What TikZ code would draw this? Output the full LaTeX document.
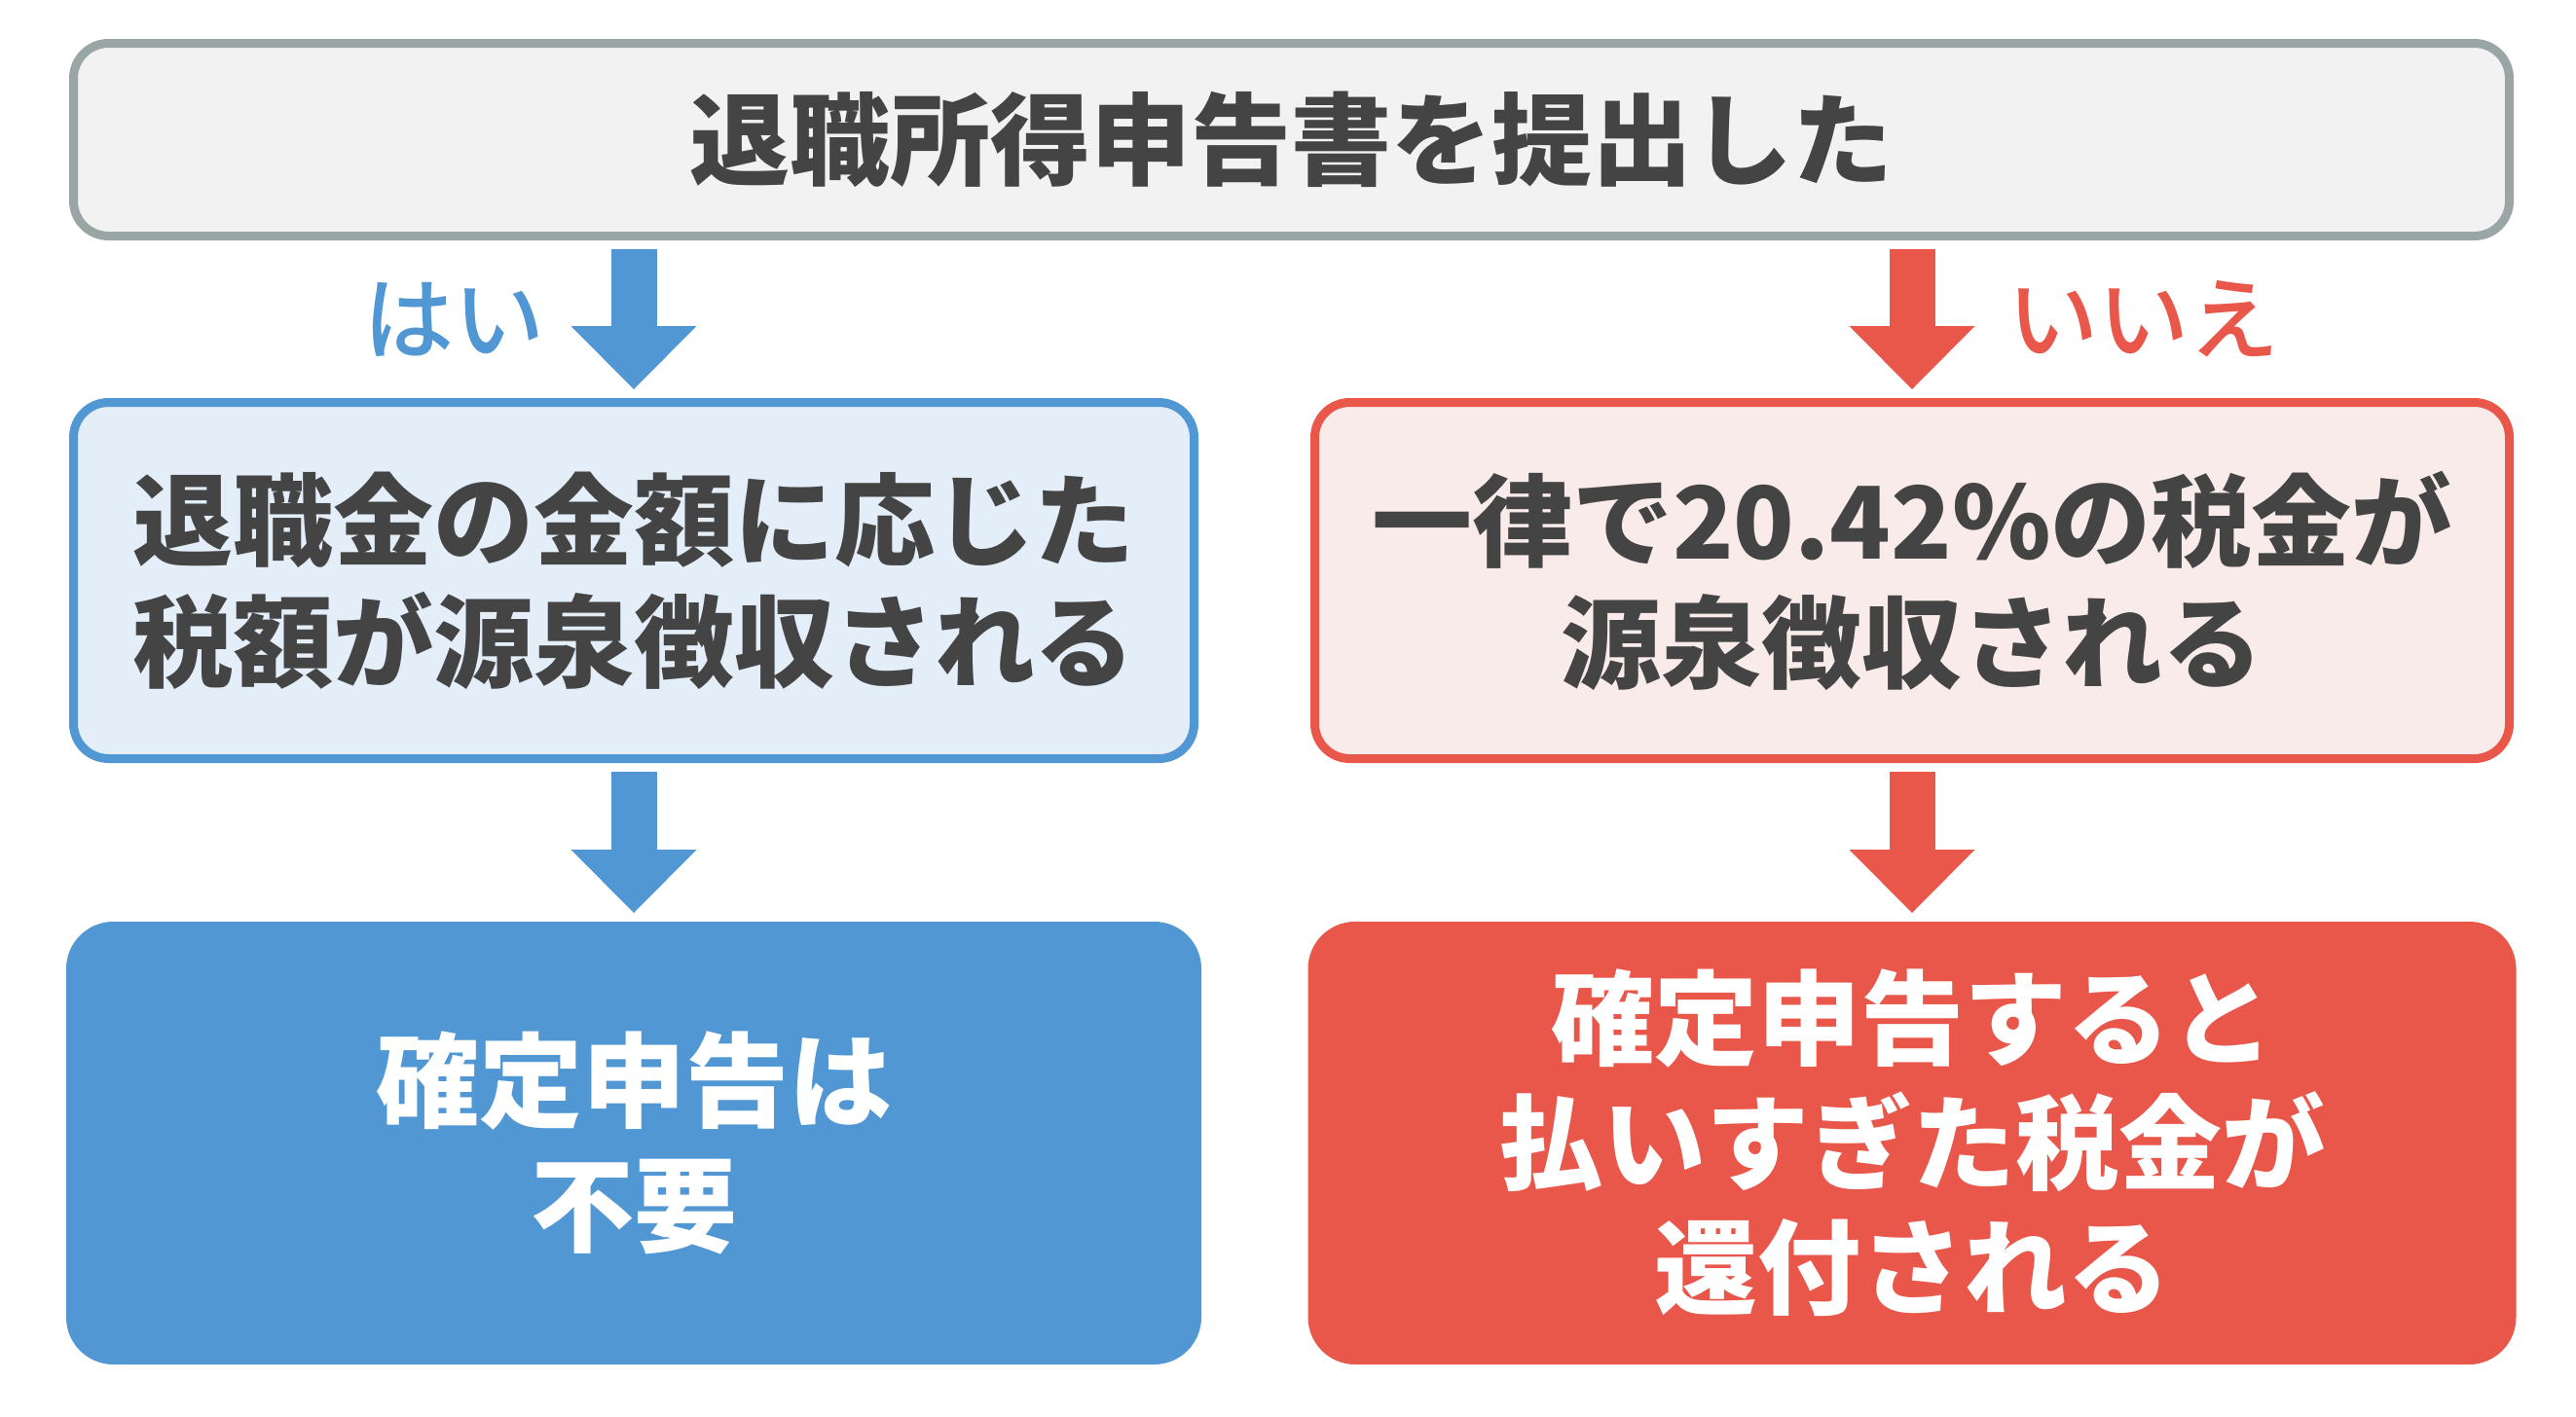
\documentclass[tikz,border=0pt]{standalone}
\usepackage{fontspec}
\usepackage{tikz}
\usetikzlibrary{positioning,arrows.meta}
\newfontfamily\jpfont{Noto Sans CJK JP}
\newfontfamily\jpmedium{Noto Sans CJK JP Medium}
\definecolor{myblue}{RGB}{80,151,211}
\definecolor{mybluelight}{RGB}{227,238,248}
\definecolor{myred}{RGB}{232,87,74}
\definecolor{myredlight}{RGB}{249,235,234}
\definecolor{mygray}{RGB}{154,165,166}
\definecolor{mygraylight}{RGB}{242,242,242}
\definecolor{mytext}{RGB}{68,68,68}
\tikzset{
  flowpic/.style={
    inner sep=0pt
    ,outer sep=0pt
  }
  ,box/.style={rectangle,rounded corners=18pt,line width=4.5pt,align=center
    ,font={\jpfont\bfseries\fontsize{51.5pt}{62.5pt}\selectfont\color{mytext}}}
  ,question/.style={box,draw=mygray,fill=mygraylight
    ,minimum width=1251pt,minimum height=99pt}
  ,yesbox/.style={box,draw=myblue,fill=mybluelight
    ,minimum width=575.5pt,minimum height=183pt}
  ,nobox/.style={box,draw=myred,fill=myredlight
    ,minimum width=613.5pt,minimum height=183pt}
  ,result/.style={box,rounded corners=22pt
    ,minimum height=223pt
    ,font={\jpfont\bfseries\fontsize{53pt}{64pt}\selectfont\color{white}}}
  ,yesresult/.style={result,draw=myblue,fill=myblue,minimum width=578.5pt}
  ,noresult/.style={result,draw=myred,fill=myred,minimum width=616pt}
  ,bigarrow/.style={line width=23.5pt
    ,-{Triangle[width=64.5pt,length=32.5pt,line width=0pt]}
    ,shorten <=6.75pt,shorten >=6.75pt}
  ,answer/.style={font={\jpmedium\fontsize{46.5pt}{50pt}\selectfont}}
}
\begin{document}
\begin{tikzpicture}[flowpic]
    \useasboundingbox (0,0) rectangle (1323pt,-728pt);

    % question
    \node[question] (teishutsu) at (663.25pt,-71.75pt) {退職所得申告書を提出した};

    % middle row
    \node[yesbox,below right=85.5pt and 0pt of teishutsu.south west] (gensen)
      {退職金の金額に応じた\\税額が源泉徴収される};
    \node[nobox,below left=85.5pt and 0pt of teishutsu.south east] (ichiritsu)
      {一律で20.42\%の税金が\\源泉徴収される};

    % bottom row
    \node[yesresult,below=86pt of gensen.south] (fuyou) {確定申告は\\不要};
    \node[noresult,below=86pt of ichiritsu.south] (kanpu)
      {確定申告すると\\払いすぎた税金が\\還付される};

    % arrows
    \draw[bigarrow,myblue] (teishutsu.south -| gensen.north) -- (gensen.north)
      node[midway,left=46pt,answer,text=myblue] (hai) {はい};
    \draw[bigarrow,myred] (teishutsu.south -| ichiritsu.north) -- (ichiritsu.north)
      node[midway,right=49pt,answer,text=myred] (iie) {いいえ};
    \draw[bigarrow,myblue] (gensen) -- (fuyou);
    \draw[bigarrow,myred] (ichiritsu.south -| kanpu.north) -- (kanpu.north);
  \end{tikzpicture}
\end{document}
